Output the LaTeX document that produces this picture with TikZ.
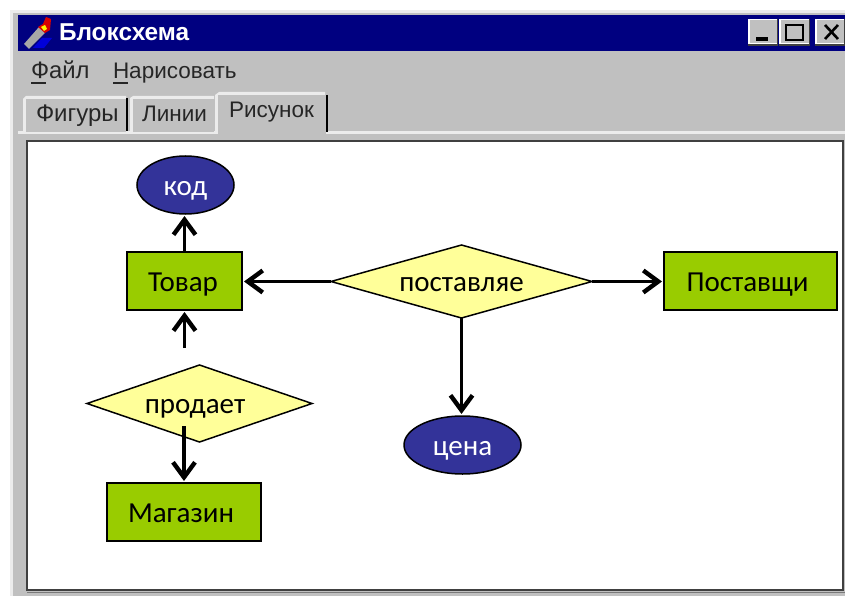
\documentclass[tikz,border=0pt]{standalone}
\usepackage{fontspec}
\setmainfont{Carlito}
\newfontfamily\winfont{Liberation Sans}
\usetikzlibrary{arrows.meta,shapes.geometric}
\definecolor{wingray}{HTML}{C0C0C0}
\definecolor{winnavy}{HTML}{000080}
\definecolor{leaf}{HTML}{99CC00}
\definecolor{lemon}{HTML}{FFFF99}
\definecolor{indigo}{HTML}{333399}
\definecolor{edgelight}{HTML}{ECECEC}
\definecolor{edgedark}{HTML}{404040}
\tikzset{
  labelfont/.style={font=\fontsize{29}{31}\selectfont,text height=20pt,text depth=0pt},
  entity/.style={draw=black,line width=1.5pt,fill=leaf,inner sep=0pt,outer sep=0pt,labelfont},
  relation/.style={diamond,draw=black,line width=1.5pt,fill=lemon,inner sep=0pt,outer sep=0pt,labelfont},
  attribute/.style={ellipse,draw=black,line width=1.5pt,fill=indigo,text=white,inner sep=0pt,outer sep=0pt,labelfont},
  link/.style={line width=3.8pt,-{Straight Barb[length=15pt,width=22pt,line width=4.4pt]},shorten >=2pt},
  wintext/.style={inner sep=0pt,outer sep=0pt,anchor=base west,font=\winfont\fontsize{22.5}{24}\selectfont,text=black!85},
  tabface/.style={fill=wingray,draw=none},
}
\begin{document}
\begin{tikzpicture}[x=1pt,y=-1pt]
\useasboundingbox (0,0) rectangle (845,596);
\fill[white] (0,0) rectangle (845,596);
% window body
\fill[edgelight] (10,10) rectangle (845,596);
\fill[wingray] (13,13) rectangle (845,596);
\fill[winnavy] (18,15) rectangle (845,51);
% title icon
\fill[gray!70] (24,44) -- (39,27) -- (45,33) -- (29,49) -- cycle;
\fill[blue!85!black] (33,48) -- (42,38) -- (52,38) -- (44,48) -- cycle;
\fill[red!85!black] (38,27) -- (43,24) -- (46,17) -- (51,19) -- (50,30) -- (45,33) -- cycle;
\fill[yellow] (41,27) -- (45,25) -- (47,29) -- (44,31) -- cycle;
\node[wintext,text=white,font=\winfont\bfseries\fontsize{24.4}{26}\selectfont] (title) at (59,41) {Блоксхема};
% window buttons
\foreach \xa/\xb in {748/778,779/810,815/845}{
  \fill[edgedark] (\xa,19) rectangle (\xb,46);
  \fill[white] (\xa,19) rectangle (\xb-1,44);
  \fill[wingray] (\xa+1.5,20.5) rectangle (\xb-1.5,43.5);
}
\fill[black] (756,37) rectangle (768,41);
\draw[black,line width=1.5pt] (786,25) rectangle (803,40);
\draw[black,line width=1.2pt] (786,25) -- (803,25);
\draw[black,line width=2.6pt] (825,25) -- (838,39) (838,25) -- (825,39);
% menu
\node[wintext,font=\winfont\fontsize{23.8}{25}\selectfont] (menua) at (31,79) {Файл};
\node[wintext] (menub) at (113,79) {Нарисовать};
\draw[black!85,line width=1.3pt] (31,83) -- (46,83) (113,83) -- (128,83);
% panel
\fill[edgelight] (18,131) rectangle (845,134);
\fill[wingray] (19,134) rectangle (845,596);
% tabs
\fill[edgelight] (23,132) -- (23,99) -- (26,96) -- (126,96) -- (126,99) -- (26,99) -- (26,132) -- cycle;
\fill[tabface] (26,99) rectangle (126,132);
\draw[black,line width=1.5pt] (127,98) -- (127,131);
\fill[edgelight] (130,132) -- (130,98) -- (133,96) -- (214,96) -- (214,99) -- (133,99) -- (133,132) -- cycle;
\fill[tabface] (133,99) rectangle (214,132);
\fill[edgelight] (215,134) -- (215,95) -- (219,92) -- (325,92) -- (325,95) -- (218,95) -- (218,134) -- cycle;
\fill[tabface] (218,95) rectangle (326,134);
\draw[black,line width=1.5pt] (327,95) -- (327,132);
\node[wintext,font=\winfont\fontsize{24}{26}\selectfont] (taba) at (36,122) {Фигуры};
\node[wintext] (tabb) at (142,122) {Линии};
\node[wintext] (tabc) at (229,118) {Рисунок};
% canvas
\fill[white] (27,141) rectangle (843,590);
\draw[edgedark,line width=2pt] (27,141) rectangle (843,590);
\draw[edgedark!70,line width=1pt] (845,141) -- (845,592) -- (27,592);
% diagram nodes
\node[attribute,minimum width=97pt,minimum height=58pt] (kod) at (185.5,185) {код};
\node[entity,minimum width=115pt,minimum height=58pt] (tovar) at (184.5,281) {Товар\hspace*{3pt}};
\node[relation,minimum width=261pt,minimum height=73pt,aspect=3.57] (post) at (461.5,281.5) {поставляе};
\node[entity,minimum width=173pt,minimum height=58pt] (postav) at (750.5,281) {Поставщи\hspace*{6pt}};
\node[relation,minimum width=225pt,minimum height=77pt,aspect=2.92] (prod) at (199.5,403.5) {\hspace*{-9pt}продает};
\node[attribute,minimum width=117pt,minimum height=58pt] (cena) at (462.5,445) {цена};
\node[entity,minimum width=154pt,minimum height=58pt] (mag) at (184,512) {Магазин\hspace*{6pt}};
% connector free ends
\coordinate (prodtop) at (184.5,348);
\coordinate (prodin) at (184,426);
% connectors
\draw[link] (tovar.north) -- (tovar.north |- kod.south);
\draw[link] (prodtop) -- (prodtop |- tovar.south);
\draw[link] (post.west) -- (post.west -| tovar.east);
\draw[link] (post.east) -- (post.east -| postav.west);
\draw[link] (post.south) -- (post.south |- cena.north);
\draw[link] (prodin) -- (prodin |- mag.north);
\end{tikzpicture}
\end{document}
